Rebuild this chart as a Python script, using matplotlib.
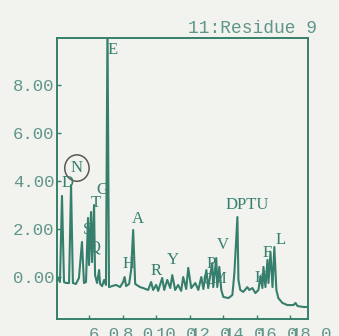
import matplotlib
matplotlib.use("Agg")
import matplotlib.pyplot as plt
from matplotlib.patches import Ellipse

# HPLC trace, PTH residue 9 (retention time in min vs. absorbance)
trace_rt = [4.15, 4.27, 4.39, 4.51, 4.63, 4.81, 4.93, 5.04, 5.22, 5.40,
            5.58, 5.70, 5.82, 5.94, 6.00, 6.12, 6.18, 6.30, 6.36, 6.48,
            6.60, 6.66, 6.78, 6.90, 7.01, 7.10, 7.19, 7.37, 7.61, 7.85,
            8.03, 8.12, 8.21, 8.39, 8.51, 8.63, 8.75, 9.04, 9.22, 9.52,
            9.70, 9.82, 10.00, 10.12, 10.36, 10.48, 10.66, 10.84, 10.96, 11.13,
            11.31, 11.49, 11.61, 11.79, 11.91, 12.09, 12.33, 12.51, 12.69, 12.81,
            12.99, 13.10, 13.34, 13.40, 13.58, 13.64, 13.76, 13.88, 14.00, 14.30,
            14.54, 14.66, 14.84, 14.90, 15.01, 15.19, 15.43, 15.55, 15.73, 15.91,
            16.09, 16.21, 16.33, 16.39, 16.51, 16.63, 16.69, 16.81, 16.93, 17.04,
            17.16, 17.28, 17.52, 17.82, 18.18, 18.30, 18.42, 18.78, 19.07]
trace_sig = [-0.04, -0.21, 3.38, -0.21, -0.25, -0.25, 3.83, -0.25, -0.29, -0.04,
             1.46, -0.25, -0.21, 2.46, 0.50, 2.71, 0.62, 3.00, 0.08, -0.25,
             0.29, -0.29, -0.38, -0.12, -0.33, 10.6, -0.42, -0.38, -0.33, -0.42,
             -0.21, 0.00, -0.38, -0.29, 0.30, 1.96, -0.29, -0.42, -0.46, -0.54,
             -0.21, -0.54, -0.33, -0.58, -0.04, -0.54, -0.12, -0.46, 0.08, -0.54,
             -0.33, -0.58, 0.00, -0.50, 0.38, -0.46, -0.25, -0.54, 0.00, -0.50,
             0.29, -0.46, 0.58, -0.42, 0.79, -0.42, 0.42, -0.54, -0.83, -0.88,
             -0.75, 0.17, 2.50, -0.12, -0.54, -0.62, -0.42, -0.54, -0.46, -0.67,
             -0.54, 0.00, -0.46, 0.42, -0.42, 0.71, -0.25, 1.04, -0.42, 1.25,
             -0.54, -0.88, -1.08, -1.17, -1.17, -1.08, -1.21, -1.25, -1.25]

# peak assignments: name, label x, label y
peak_names = ["E", "N", "D", "G", "T", "S", "Q", "A", "H", "R",
              "Y", "P", "C", "M", "V", "DPTU", "F", "L", "K"]
label_x = [7.43, 5.28, 4.69, 6.78, 6.42, 5.88, 6.30, 8.93, 8.33, 10.00,
           11.00, 13.28, 13.10, 13.75, 14.00, 15.43, 16.63, 17.40, 16.20]
label_y = [9.46, 4.54, 3.90, 3.63, 3.08, 1.96, 1.25, 2.42, 0.54, 0.25,
           0.71, 0.54, -0.12, -0.10, 1.33, 3.00, 1.00, 1.54, -0.04]
circled = "N"

x_ticks = [6, 8, 10, 12, 14, 16, 18]
y_ticks = [0, 2, 4, 6, 8]

line_col = "#367f6c"
text_col = "#5f968a"
paper = "#f2f2ef"

fig = plt.figure(figsize=(3.39, 3.36), dpi=100, facecolor=paper)
ax = fig.add_axes([0.168, 0.0506, 0.7418, 0.8363], facecolor=paper)

ax.plot(trace_rt, trace_sig, color=line_col, lw=1.5, solid_joinstyle="round")

for name, lx, ly in zip(peak_names, label_x, label_y):
    ax.text(lx, ly, name, ha="center", va="center", color=line_col,
            fontsize=12, family="Liberation Serif")
    if name == circled:
        ax.add_patch(Ellipse((lx, ly), 1.45, 1.1, fill=False,
                             edgecolor="#5b5850", lw=1.1))

ax.set_xlim(4.09, 19.07)
ax.set_ylim(-1.75, 9.96)

ax.set_xticks(x_ticks)
ax.set_xticklabels([f"{v:.1f}" for v in x_ticks], ha="left")
ax.set_yticks(y_ticks)
ax.set_yticklabels([f"{v:.2f}" for v in y_ticks])
ax.tick_params(direction="in", length=3, width=1, color=line_col,
               labelcolor=text_col, labelsize=12.5)
ax.tick_params(axis="x", pad=6)
ax.tick_params(axis="y", pad=2)
for lab in ax.get_xticklabels() + ax.get_yticklabels():
    lab.set_family("Liberation Mono")

for sp in ax.spines.values():
    sp.set_color(line_col)
    sp.set_linewidth(1.4)

fig.text(317 / 339, 1 - 33 / 336, "11:Residue 9", ha="right", va="baseline",
         color=text_col, fontsize=12.9, family="Liberation Mono")

fig.savefig("out.png", dpi=100, facecolor=paper)
